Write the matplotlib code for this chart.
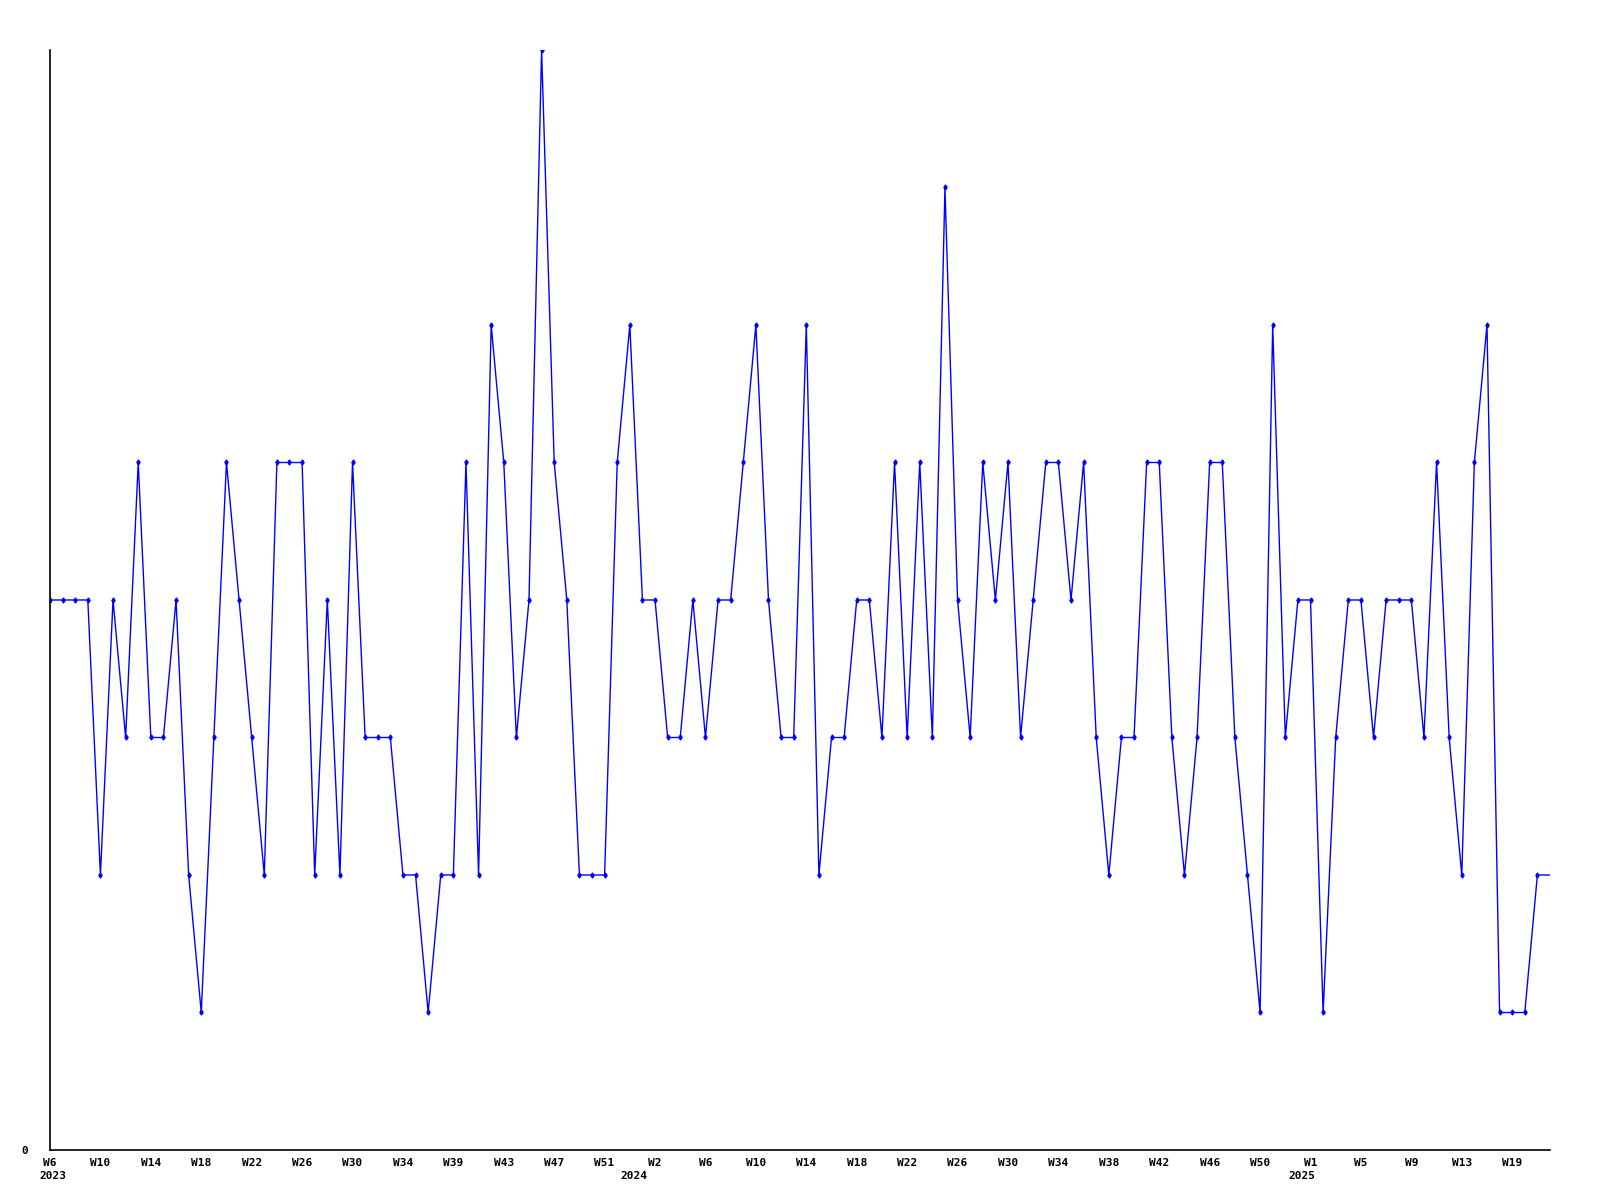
import numpy as np
import matplotlib.pyplot as plt
import matplotlib.transforms as mtransforms

# weekly counts, W6 2023 .. W21 2025
values = [4, 4, 4, 4, 2, 4, 3, 5, 3, 3,
          4, 2, 1, 3, 5, 4, 3, 2, 5, 5,
          5, 2, 4, 2, 5, 3, 3, 3, 2, 2,
          1, 2, 2, 5, 2, 6, 5, 3, 4, 8,
          5, 4, 2, 2, 2, 5, 6, 4, 4, 3,
          3, 4, 3, 4, 4, 5, 6, 4, 3, 3,
          6, 2, 3, 3, 4, 4, 3, 5, 3, 5,
          3, 7, 4, 3, 5, 4, 5, 3, 4, 5,
          5, 4, 5, 3, 2, 3, 3, 5, 5, 3,
          2, 3, 5, 5, 3, 2, 1, 6, 3, 4,
          4, 1, 3, 4, 4, 3, 4, 4, 4, 3,
          5, 3, 2, 5, 6, 1, 1, 1, 2, 2]

week_labels = ["W6", "W10", "W14", "W18", "W22", "W26", "W30", "W34", "W39",
               "W43", "W47", "W51", "W2", "W6", "W10", "W14", "W18", "W22",
               "W26", "W30", "W34", "W38", "W42", "W46", "W50", "W1", "W5",
               "W9", "W13", "W19"]
year_labels = ["2023", "2024", "2025"]
year_pos = [0.25, 46.3, 99.3]

x = np.arange(len(values))

fig = plt.figure(figsize=(16, 12), dpi=100)
ax = fig.add_axes([0.03125, 0.04167, 0.9375, 0.91667])

ax.plot(x, values, color="#0000ff", linewidth=1.0, marker="d", markersize=2.6,
        markevery=list(range(len(values) - 1)))

ax.spines["top"].set_visible(False)
ax.spines["right"].set_visible(False)
ax.spines["left"].set_linewidth(1.2)
ax.spines["bottom"].set_linewidth(1.2)

font = dict(family="DejaVu Sans Mono", fontweight="bold", fontsize=8)

ax.set_xticks(np.arange(0, len(week_labels) * 4, 4))
ax.set_xticklabels(week_labels, **font)
ax.set_yticks([0])
ax.set_yticklabels(["0"], **font)
ax.tick_params(axis="both", length=0)
ax.tick_params(axis="x", pad=6)
ax.tick_params(axis="y", pad=16)

ax.set_xlim(0, len(values) - 1)
ax.set_ylim(0, 8)

trans = mtransforms.blended_transform_factory(ax.transData, ax.transAxes)
for pos, lab in zip(year_pos, year_labels):
    ax.text(pos, -0.024, lab, transform=trans, ha="center", va="center", **font)

fig.savefig("out.png", dpi=100)
